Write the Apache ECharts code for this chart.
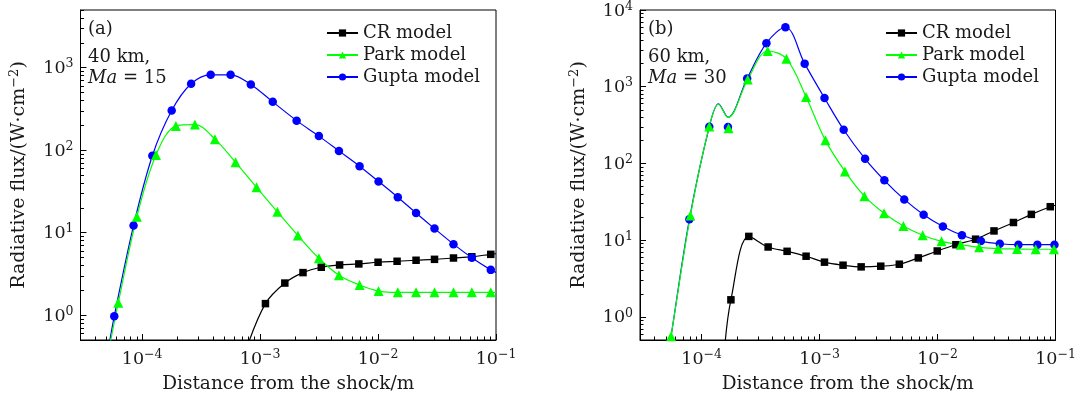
<!DOCTYPE html>
<html><head><meta charset="utf-8">
<script src="https://cdn.jsdelivr.net/npm/echarts@6/dist/echarts.min.js"></script>
<style>html,body{margin:0;padding:0;background:#fff}#c{width:1080px;height:399px}</style>
</head><body><div id="c"></div>
<script>
// ---------------- data ----------------
const seriesNames = ['CR model', 'Park model', 'Gupta model'];
const xMajorTicks = [1e-4, 1e-3, 1e-2, 1e-1];
const yMajorTicksA = [1, 10, 100, 1000];
const yMajorTicksB = [1, 10, 100, 1000, 10000];

// Panel (a): 40 km, Ma = 15 — marker points
const aCrX = [1.11e-3, 1.62e-3, 2.31e-3, 3.30e-3, 4.72e-3, 6.87e-3, 1.0e-2, 1.45e-2, 2.1e-2, 3.01e-2, 4.36e-2, 6.24e-2, 9.03e-2];
const aCrY = [1.38, 2.45, 3.28, 3.81, 4.06, 4.18, 4.38, 4.5, 4.63, 4.75, 4.93, 5.11, 5.46];
const aParkX = [6.27e-5, 9.02e-5, 1.31e-4, 1.93e-4, 2.8e-4, 4.14e-4, 6.19e-4, 9.33e-4, 1.40e-3, 2.09e-3, 3.15e-3, 4.66e-3, 6.97e-3, 1.01e-2, 1.47e-2, 2.1e-2, 3.01e-2, 4.36e-2, 6.24e-2, 9.03e-2];
const aParkY = [1.41, 15.6, 87.3, 196, 204, 136, 71.3, 35.4, 17.9, 9.23, 4.89, 3.05, 2.32, 1.96, 1.89, 1.89, 1.89, 1.89, 1.89, 1.89];
const aGuptaX = [5.8e-5, 8.45e-5, 1.22e-4, 1.78e-4, 2.6e-4, 3.81e-4, 5.62e-4, 8.34e-4, 1.28e-3, 2.04e-3, 3.15e-3, 4.66e-3, 6.97e-3, 1.01e-2, 1.47e-2, 2.1e-2, 3.01e-2, 4.36e-2, 6.24e-2, 9.03e-2];
const aGuptaY = [0.97, 12.2, 85.7, 303, 639, 820, 820, 627, 385, 228, 148, 98, 64, 41.8, 26.9, 17.3, 11.2, 7.26, 4.97, 3.54];
// Panel (a): curve ends read beyond the markers
const aCrCurveStart = [7.6e-4, 0.38], aCrCurveEnd = [0.1, 5.55];
const aParkCurveStart = [5.2e-5, 0.37], aParkCurveEnd = [0.1, 1.89];
const aGuptaCurveStart = [5.1e-5, 0.35], aGuptaCurveEnd = [0.1, 3.3];

// Panel (b): 60 km, Ma = 30 — marker points
const bCrX = [1.77e-4, 2.51e-4, 3.66e-4, 5.30e-4, 7.68e-4, 1.10e-3, 1.58e-3, 2.25e-3, 3.30e-3, 4.74e-3, 6.87e-3, 9.94e-3, 1.43e-2, 2.10e-2, 3.01e-2, 4.40e-2, 6.24e-2, 9.03e-2];
const bCrY = [1.67, 11.2, 8.15, 7.16, 6.18, 5.17, 4.72, 4.49, 4.58, 4.86, 5.87, 7.23, 8.73, 10.3, 13.2, 17.0, 21.7, 27.3];
const bParkX = [5.5e-5, 8.02e-5, 1.16e-4, 1.69e-4, 2.46e-4, 3.63e-4, 5.23e-4, 7.68e-4, 1.12e-3, 1.64e-3, 2.40e-3, 3.52e-3, 5.13e-3, 7.48e-3, 1.08e-2, 1.57e-2, 2.25e-2, 3.26e-2, 4.72e-2, 6.79e-2, 9.7e-2];
const bParkY = [0.56, 20.9, 304, 287, 1243, 2920, 2320, 734, 200, 78.8, 37.5, 22.4, 15.3, 11.6, 9.65, 8.73, 8.07, 7.74, 7.67, 7.62, 7.62];
const bGuptaX = [7.87e-5, 1.16e-4, 1.67e-4, 2.43e-4, 3.54e-4, 5.13e-4, 7.47e-4, 1.10e-3, 1.6e-3, 2.43e-3, 3.54e-3, 5.22e-3, 7.62e-3, 1.11e-2, 1.61e-2, 2.33e-2, 3.37e-2, 4.85e-2, 7.02e-2, 9.8e-2];
const bGuptaY = [18.7, 300, 298, 1280, 3700, 5960, 2000, 713, 275, 115, 60.3, 34, 21.5, 15.1, 11.6, 9.73, 8.98, 8.73, 8.73, 8.73];
// Panel (b): curves (the curves pass a bump the markers do not show)
const bCrCurveStart = [1.56e-4, 0.37], bCrCurveEnd = [0.1, 28.5];
const bParkCurveX = [5.2e-5, 5.5e-5, 8.02e-5, 1.16e-4, 1.39e-4, 1.67e-4, 2.46e-4, 3.63e-4, 5.23e-4, 7.68e-4, 1.12e-3, 1.64e-3, 2.40e-3, 3.52e-3, 5.13e-3, 7.48e-3, 1.08e-2, 1.57e-2, 2.25e-2, 3.26e-2, 4.72e-2, 6.79e-2, 9.7e-2, 0.1];
const bParkCurveY = [0.33, 0.56, 20.9, 304, 591, 398, 1243, 2920, 2320, 734, 200, 78.8, 37.5, 22.4, 15.3, 11.6, 9.65, 8.73, 8.07, 7.74, 7.67, 7.62, 7.62, 7.62];
const bGuptaCurveX = [5.2e-5, 5.5e-5, 7.87e-5, 1.16e-4, 1.39e-4, 1.67e-4, 2.43e-4, 3.54e-4, 5.13e-4, 7.47e-4, 1.10e-3, 1.6e-3, 2.43e-3, 3.54e-3, 5.22e-3, 7.62e-3, 1.11e-2, 1.61e-2, 2.33e-2, 3.37e-2, 4.85e-2, 7.02e-2, 9.8e-2, 0.1];
const bGuptaCurveY = [0.33, 0.56, 18.7, 300, 600, 400, 1280, 3700, 5960, 2000, 713, 275, 115, 60.3, 34, 21.5, 15.1, 11.6, 9.73, 8.98, 8.73, 8.73, 8.73, 8.73];

// ---------------- helpers ----------------
const FONT = '"DejaVu Serif", "Liberation Serif", serif';
const TXT = '#1a1a1a';
const COLORS = { 'CR model': '#000000', 'Park model': '#00ff00', 'Gupta model': '#0000ff' };
const SYMBOLS = { 'CR model': 'rect', 'Park model': 'triangle', 'Gupta model': 'circle' };
const SIZES = { 'CR model': 7.5, 'Park model': 10, 'Gupta model': 8.5 };
const RICH = {
  b: { fontFamily: FONT, fontSize: 17.5, lineHeight: 20, verticalAlign: 'bottom', color: TXT },
  s: { fontFamily: FONT, fontSize: 12.5, lineHeight: 12, verticalAlign: 'top', color: TXT }
};
function powLabel(v) {
  const e = Math.round(Math.log10(v));
  return '{b|10}{s|' + String(e).replace('-', '\u2212') + '}';
}
function zip(xs, ys) { return xs.map((x, i) => [x, ys[i]]); }
function minorTicks(lo, hi) {
  const out = [];
  for (let d = -6; d <= 4; d++) for (let k = 2; k <= 9; k++) {
    const v = Number((k * Math.pow(10, d)).toPrecision(6));
    if (v >= lo && v <= hi) out.push(v);
  }
  return out;
}

const XMIN = 3e-5, XMAX = 0.1;
const panels = [
  { yMin: 0.5, yMax: 5000, yMajor: yMajorTicksA,
    curves: {
      'CR model': [aCrCurveStart].concat(zip(aCrX, aCrY), [aCrCurveEnd]),
      'Park model': [aParkCurveStart].concat(zip(aParkX, aParkY), [aParkCurveEnd]),
      'Gupta model': [aGuptaCurveStart].concat(zip(aGuptaX, aGuptaY), [aGuptaCurveEnd])
    },
    marks: {
      'CR model': zip(aCrX, aCrY), 'Park model': zip(aParkX, aParkY), 'Gupta model': zip(aGuptaX, aGuptaY)
    } },
  { yMin: 0.5, yMax: 10000, yMajor: yMajorTicksB,
    curves: {
      'CR model': [bCrCurveStart].concat(zip(bCrX, bCrY), [bCrCurveEnd]),
      'Park model': zip(bParkCurveX, bParkCurveY),
      'Gupta model': zip(bGuptaCurveX, bGuptaCurveY)
    },
    marks: {
      'CR model': zip(bCrX, bCrY), 'Park model': zip(bParkX, bParkY), 'Gupta model': zip(bGuptaX, bGuptaY)
    } }
];

const grids = [
  { left: 80.5, top: 10, width: 415.5, height: 332.7, show: true, borderColor: '#000', borderWidth: 1, backgroundColor: 'transparent' },
  { left: 640, top: 10, width: 415.5, height: 332.7, show: true, borderColor: '#000', borderWidth: 1, backgroundColor: 'transparent' }
];
const xAxes = [], yAxes = [], series = [];
const drawOrder = ['CR model', 'Gupta model', 'Park model'];
panels.forEach((p, gi) => {
  xAxes.push({ type: 'log', logBase: 10, gridIndex: gi, min: XMIN, max: XMAX, position: 'bottom',
    axisLine: { show: true, lineStyle: { color: '#000', width: 1 } },
    axisTick: { show: true, inside: true, length: 6, customValues: xMajorTicks, lineStyle: { color: '#000' } },
    axisLabel: { show: true, customValues: xMajorTicks, margin: 8, formatter: powLabel, rich: RICH },
    splitLine: { show: false },
    name: 'Distance from the shock/m', nameLocation: 'middle', nameGap: 35,
    nameTextStyle: { fontFamily: FONT, fontSize: 18.5, color: TXT } });
  xAxes.push({ type: 'log', logBase: 10, gridIndex: gi, min: XMIN, max: XMAX, position: 'bottom',
    axisLine: { show: false }, axisLabel: { show: false }, splitLine: { show: false },
    axisTick: { show: true, inside: true, length: 3.5, customValues: minorTicks(XMIN, XMAX), lineStyle: { color: '#000' } } });
  yAxes.push({ type: 'log', logBase: 10, gridIndex: gi, min: p.yMin, max: p.yMax, position: 'left',
    axisLine: { show: true, lineStyle: { color: '#000', width: 1 } },
    axisTick: { show: true, inside: true, length: 6, customValues: p.yMajor, lineStyle: { color: '#000' } },
    axisLabel: { show: true, customValues: p.yMajor, margin: 7, formatter: powLabel, rich: RICH },
    splitLine: { show: false },
    name: 'Radiative flux/(W\u00B7cm{s|\u22122})', nameLocation: 'middle', nameGap: 50, nameRotate: 90,
    nameTextStyle: { fontFamily: FONT, fontSize: 19, lineHeight: 22, color: TXT,
      rich: { s: { fontFamily: FONT, fontSize: 13, lineHeight: 12, verticalAlign: 'top', color: TXT } } } });
  yAxes.push({ type: 'log', logBase: 10, gridIndex: gi, min: p.yMin, max: p.yMax, position: 'left',
    axisLine: { show: false }, axisLabel: { show: false }, splitLine: { show: false },
    axisTick: { show: true, inside: true, length: 3.5, customValues: minorTicks(p.yMin, p.yMax), lineStyle: { color: '#000' } } });

  const xi = gi * 2, yi = gi * 2;
  drawOrder.forEach(name => {
    series.push({ type: 'line', name, xAxisIndex: xi, yAxisIndex: yi, data: p.curves[name],
      smooth: 0.35, symbol: SYMBOLS[name], symbolSize: SIZES[name], showSymbol: false, clip: true,
      color: COLORS[name], lineStyle: { color: COLORS[name], width: 1.2 }, itemStyle: { color: COLORS[name] },
      z: 2, silent: true });
  });
  drawOrder.forEach(name => {
    series.push({ type: 'scatter', name, xAxisIndex: xi, yAxisIndex: yi, data: p.marks[name],
      symbol: SYMBOLS[name], symbolSize: SIZES[name], clip: true,
      itemStyle: { color: COLORS[name], opacity: 1 }, z: 3, silent: true });
  });
});

function legendAt(left) {
  return { show: true, orient: 'vertical', left, top: 19, align: 'left', data: seriesNames,
    itemWidth: 31, itemHeight: 9, itemGap: 4, selectedMode: false,
    textStyle: { fontFamily: FONT, fontSize: 18, lineHeight: 18, color: TXT } };
}

function panelText(x, tag, alt, ma) {
  const st = { fontFamily: FONT, fontSize: 18, fill: TXT, verticalAlign: 'middle', align: 'left' };
  return [
    { type: 'text', x, y: 29, style: Object.assign({ text: tag }, st) },
    { type: 'text', x, y: 57, style: Object.assign({ text: alt }, st) },
    { type: 'text', x, y: 78, style: Object.assign({ text: '{i|Ma} = ' + ma,
        rich: { i: { fontStyle: 'italic', fontFamily: FONT, fontSize: 18, fill: TXT } } }, st) }
  ];
}

const chart = echarts.init(document.getElementById('c'), null, { renderer: 'canvas' });
chart.setOption({
  animation: false,
  backgroundColor: '#fff',
  grid: grids,
  xAxis: xAxes,
  yAxis: yAxes,
  legend: [legendAt(321), legendAt(880)],
  graphic: panelText(88, '(a)', '40 km,', '15').concat(panelText(648, '(b)', '60 km,', '30')),
  series
});
</script></body></html>
